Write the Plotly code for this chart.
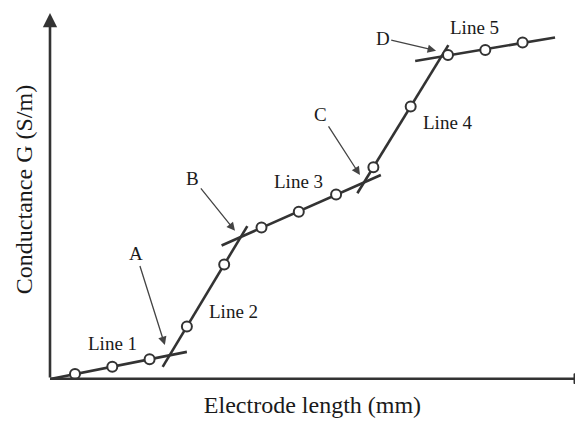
import numpy as np
import plotly.graph_objects as go

# Measured samples: electrode length (mm) and conductance G (arbitrary S/m units)
length_mm = [10, 20, 30, 40, 50, 60, 70, 80, 90, 100, 110, 120, 130]
conductance = [1.4, 3.6, 5.9, 15.8, 34.6, 45.8, 50.6, 55.8, 64.1, 82.5, 98.1, 99.6, 101.9]

# Piecewise-linear regimes: which samples each fitted line uses, and how far it is drawn
line_names = ["Line 1", "Line 2", "Line 3", "Line 4", "Line 5"]
line_members = [[0, 1, 2], [3, 4], [5, 6, 7], [8, 9], [10, 11, 12]]
line_x_from = [3.3, 33.5, 49.3, 85.7, 101.2]
line_x_to = [40.0, 56.2, 92.0, 110.1, 138.7]
line_label_x = [20.0, 52.6, 69.9, 110.0, 117.1]
line_label_y = [10.8, 20.3, 59.9, 77.6, 106.3]

# Transition points marked with arrows: label position and arrow tip
break_names = ["A", "B", "C", "D"]
break_label_x = [26.4, 41.6, 75.9, 92.5]
break_label_y = [37.8, 60.7, 80.1, 103.2]
break_tip_x = [34.1, 52.9, 86.4, 106.8]
break_tip_y = [10.2, 44.8, 61.7, 99.4]

INK = "#333333"
SERIF = "Liberation Serif, Times New Roman, serif"

fig = go.Figure()

x_arr = np.array(length_mm, dtype=float)
y_arr = np.array(conductance, dtype=float)

# Least-squares line for each regime, extended past its samples
for members, x0, x1 in zip(line_members, line_x_from, line_x_to):
    slope, icpt = np.polyfit(x_arr[members], y_arr[members], 1)
    xs = np.array([x0, x1])
    fig.add_trace(go.Scatter(
        x=xs, y=slope * xs + icpt, mode="lines",
        line=dict(color=INK, width=2.6),
        hoverinfo="skip", showlegend=False, cliponaxis=False,
    ))

# Sample markers: open circles
fig.add_trace(go.Scatter(
    x=length_mm, y=conductance, mode="markers",
    marker=dict(symbol="circle", size=10, color="white",
                line=dict(color=INK, width=2)),
    showlegend=False, cliponaxis=False,
))

annotations = []
for name, lx, ly in zip(line_names, line_label_x, line_label_y):
    annotations.append(dict(
        x=lx, y=ly, xref="x", yref="y", text=name, showarrow=False,
        font=dict(family=SERIF, size=19, color="#1a1a1a"),
    ))

for name, lx, ly, tx, ty in zip(break_names, break_label_x, break_label_y,
                                break_tip_x, break_tip_y):
    annotations.append(dict(
        x=tx, y=ty, ax=lx, ay=ly, xref="x", yref="y", axref="x", ayref="y",
        text=name, showarrow=True, arrowhead=2, arrowsize=1.3,
        arrowwidth=1.3, arrowcolor="#444444",
        font=dict(family=SERIF, size=19, color="#1a1a1a"),
    ))

# Vertical axis with an arrowhead at the top
annotations.append(dict(
    x=0, y=(379 - 13) / 379, xref="paper", yref="paper",
    ax=0, ay=366, showarrow=True, arrowhead=2, arrowsize=1.1,
    arrowwidth=2.6, arrowcolor=INK, text="",
))

# Horizontal axis running off the right edge, with its arrowhead cut by the border
shapes = [
    dict(type="line", xref="paper", yref="paper", x0=0, x1=1.05,
         y0=0.3 / 379, y1=0.3 / 379, line=dict(color=INK, width=2.6)),
    dict(type="path", xref="paper", yref="paper", xsizemode="pixel",
         ysizemode="pixel", xanchor=1.0, yanchor=0.3 / 379,
         path="M -1,-5 L 11,0 L -1,5 Z", fillcolor=INK,
         line=dict(color=INK, width=1)),
]

fig.update_layout(
    width=575, height=421,
    margin=dict(l=50, r=0, t=0, b=42),
    paper_bgcolor="white", plot_bgcolor="white",
    annotations=annotations,
    shapes=shapes,
    xaxis=dict(
        range=[3.3, 144.05], showgrid=False, zeroline=False,
        showline=False, showticklabels=False, ticks="",
        title=dict(text="Electrode length (mm)", standoff=17,
                   font=dict(family=SERIF, size=24, color="#1a1a1a")),
    ),
    yaxis=dict(
        range=[-0.09, 114.76], showgrid=False, zeroline=False,
        showline=False, showticklabels=False, ticks="",
        title=dict(text="Conductance G (S/m)", standoff=9,
                   font=dict(family=SERIF, size=24, color="#1a1a1a")),
    ),
)

fig.write_html("out.html")
